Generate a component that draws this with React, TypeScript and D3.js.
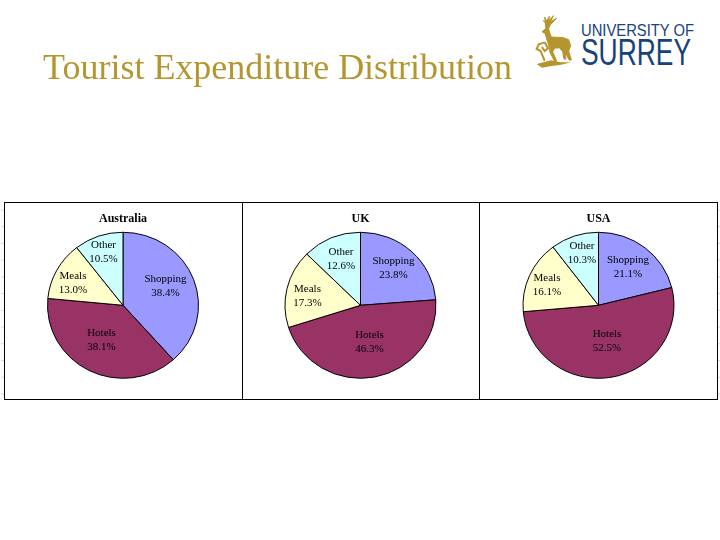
import React from "react";
import * as d3 from "d3";

const categories = ["Shopping", "Hotels", "Meals", "Other"];
const colors = ["#9999ff", "#993366", "#ffffcc", "#ccffff"];
const countries = ["Australia", "UK", "USA"];
const australiaValues = [38.4, 38.1, 13.0, 10.5];
const ukValues = [23.8, 46.3, 17.3, 12.6];
const usaValues = [21.1, 52.5, 16.1, 10.3];
const seriesValues = [australiaValues, ukValues, usaValues];
const centersX = [123, 360.5, 598.5];
const dividers = [242, 479];
const edgeTickCount = 12;
const labelOffsets: number[][][] = [
  [[42.5, -23], [-21.5, 31], [-50, -26], [-19.5, -57]],
  [[33, -41], [9, 33], [-53, -13], [-19.5, -50]],
  [[29.5, -42], [8.5, 32], [-51.5, -24], [-16.5, -56]],
];

const GOLD = "#b5952f";
const NAVY = "#17427a";

export default function App() {
  const pie = d3.pie<number>().sort(null).value((d) => d);
  const arc = d3.arc<d3.PieArcDatum<number>>().innerRadius(0).outerRadius(75.5);
  const tickY = d3.scaleLinear().domain([0, edgeTickCount - 1]).range([210, 394]);
  return (
    <svg width={720} height={540} style={{ position: "absolute", left: 0, top: 0, background: "#fff" }}>
      <defs>
        <filter id="soft" x="-5%" y="-5%" width="110%" height="110%">
          <feGaussianBlur stdDeviation="0.3" />
        </filter>
      </defs>
      <text x={43} y={79} fontFamily="Liberation Serif" fontSize={35} fill={GOLD} textLength={469} lengthAdjust="spacingAndGlyphs" filter="url(#soft)">
        Tourist Expenditure Distribution
      </text>

      <g transform="translate(530,9) scale(0.3333)" filter="url(#soft)">
        <path fill={GOLD} stroke={GOLD} strokeWidth={3} d="M36 68 L48 58 L46 42 L40 35 L46 38 L44 24 L50 36 L58 22 L56 36 L70 20 L62 38 L80 28 L62 46 L56 58 L58 68 L64 84 L100 86 L116 92 L122 110 L116 126 L124 152 L118 154 L106 130 L108 150 L102 150 L98 128 L88 116 L74 118 L68 128 L80 156 L74 158 L60 130 L56 108 L50 90 L46 74 Z" />
        <path fill={GOLD} d="M20 165 L40 160 L62 154 L92 160 L124 160 L90 168 L60 172 L36 176 Z" />
        <path fill="none" stroke={GOLD} strokeWidth={6} d="M44 100 L26 106 L20 120 L32 126 L44 156 M44 100 L54 118 L44 126 L36 114" />
      </g>
      <text x={581} y={36} fontFamily="Liberation Sans" fontSize={16.5} fill={NAVY} textLength={113} lengthAdjust="spacingAndGlyphs">
        UNIVERSITY OF
      </text>
      <text x={581} y={65} fontFamily="Liberation Sans" fontSize={37} fill={NAVY} textLength={110} lengthAdjust="spacingAndGlyphs">
        SURREY
      </text>

      {d3.range(edgeTickCount).map((i) => (
        <g key={i} stroke="#d8d8d8">
          <line x1={1} x2={4} y1={tickY(i)} y2={tickY(i)} />
          <line x1={718} x2={720} y1={tickY(i)} y2={tickY(i)} />
        </g>
      ))}
      <rect x={4.5} y={202.5} width={713} height={197} fill="#fff" stroke="#000" strokeWidth={1} />
      {dividers.map((x) => (
        <line key={x} x1={x + 0.5} x2={x + 0.5} y1={202} y2={399} stroke="#000" />
      ))}

      {countries.map((country, c) => {
        const cx = centersX[c];
        const arcs = pie(seriesValues[c]);
        return (
          <g key={country}>
            <text x={cx} y={222} textAnchor="middle" fontFamily="Liberation Serif" fontWeight="bold" fontSize={12} fill="#000" filter="url(#soft)">
              {country}
            </text>
            <g transform={`translate(${cx},305.3) scale(1,0.967)`}>
              {arcs.map((a, i) => (
                <path key={i} d={arc(a) ?? ""} fill={colors[i]} stroke="#000" strokeWidth={1} />
              ))}
            </g>
            {arcs.map((a, i) => (
              <text key={i} textAnchor="middle" fontFamily="Liberation Serif" fontSize={11} fill="#000" filter="url(#soft)">
                <tspan x={cx + labelOffsets[c][i][0]} y={305.3 + labelOffsets[c][i][1]}>{categories[i]}</tspan>
                <tspan x={cx + labelOffsets[c][i][0]} y={305.3 + labelOffsets[c][i][1] + 13.5}>{seriesValues[c][i].toFixed(1)}%</tspan>
              </text>
            ))}
          </g>
        );
      })}
    </svg>
  );
}
